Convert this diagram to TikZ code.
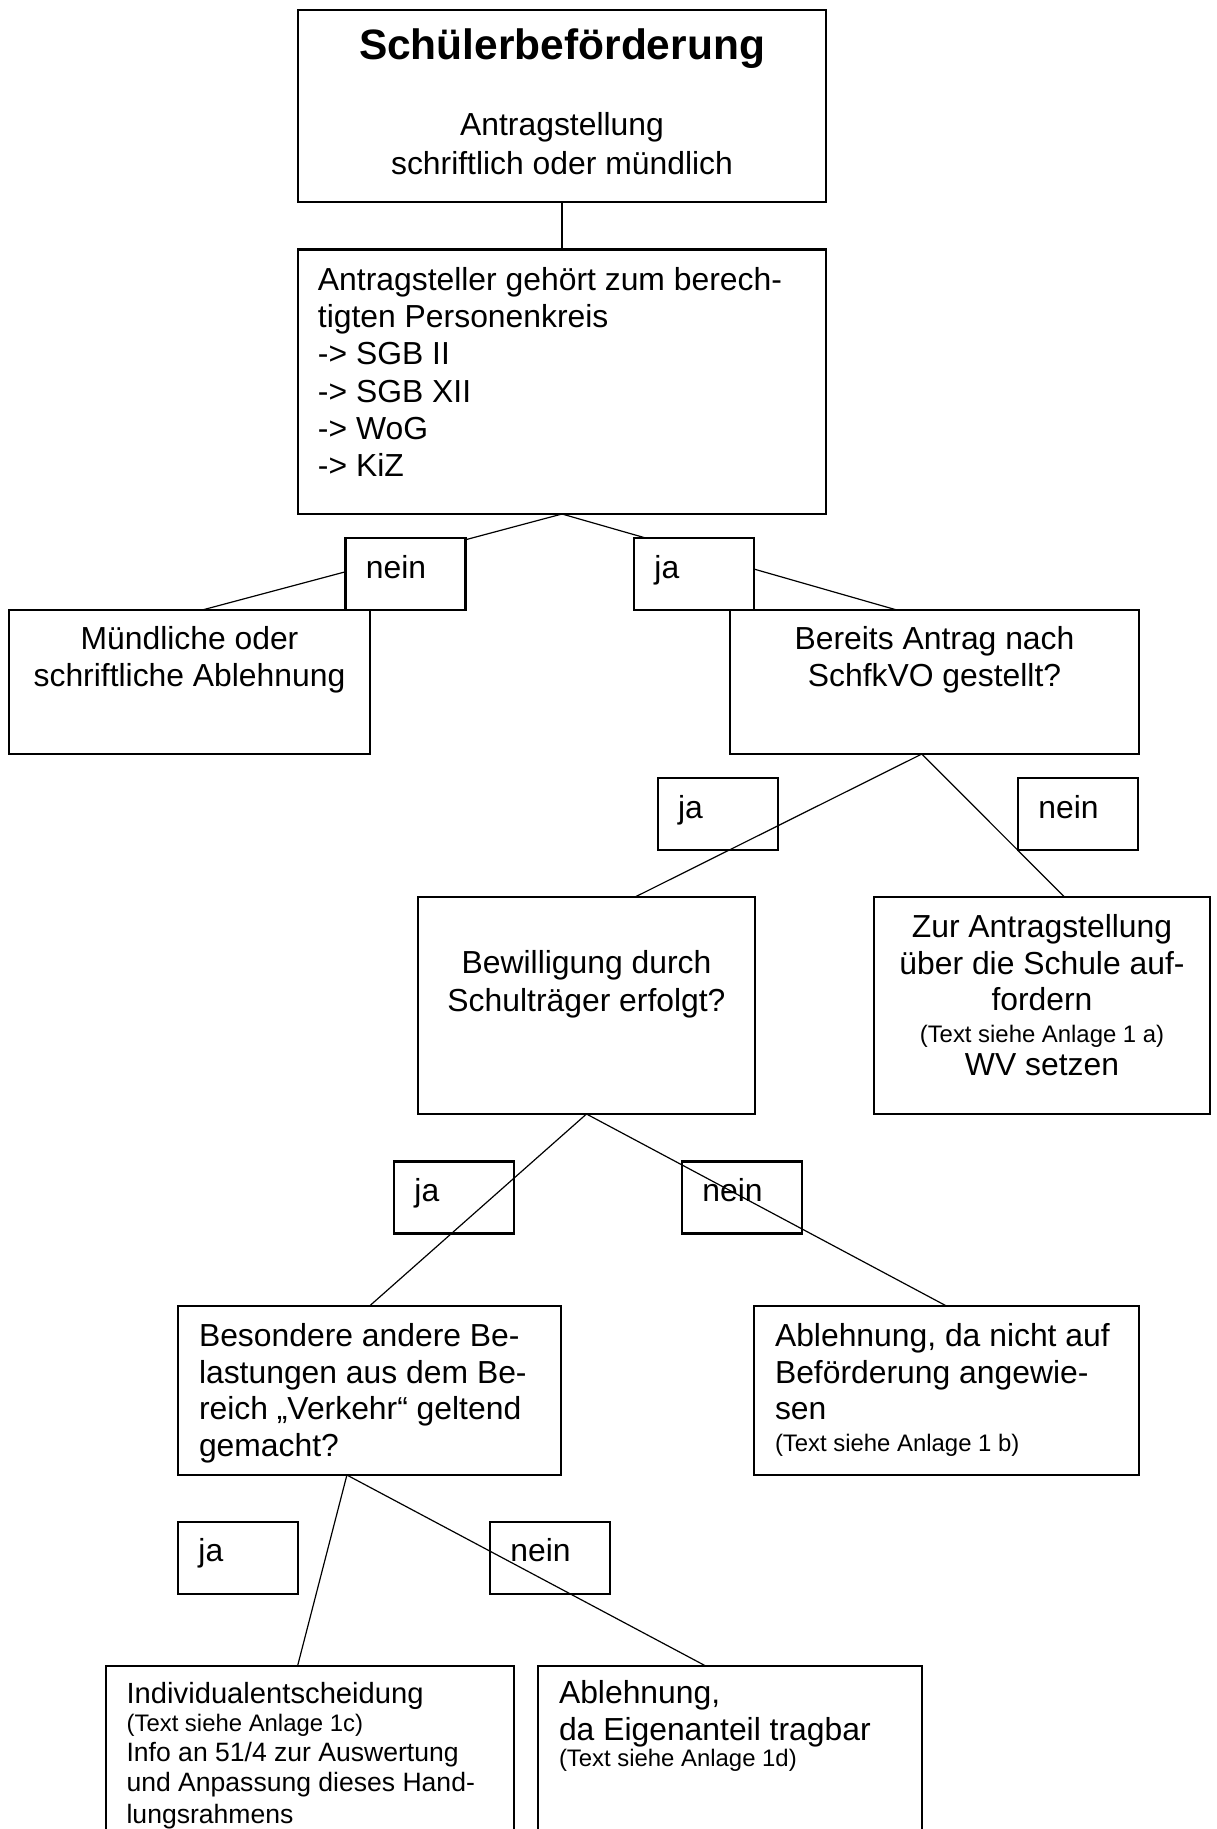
\documentclass[tikz,border=0pt]{standalone}
\usepackage{fontspec}
\setmainfont{Liberation Sans}
\usetikzlibrary{calc}
\tikzset{
  box/.style={draw, line width=0.8pt, inner ysep=0pt, outer sep=0pt, anchor=north west, font={\fontsize{12}{13.8}\selectfont}, execute at begin node={\spaceskip=0pt\xspaceskip=0pt\relax}},
  mid/.style={box, inner xsep=0pt, align=flush center},
  flush/.style={box, inner xsep=7.91pt, align=left},
  answer/.style={box, inner xsep=7.7pt, text width=29.8pt, align=left, text height=15.07pt, text depth=12.05pt},
  link/.style={line width=0.45pt}
}
\begin{document}
\begin{tikzpicture}[x=0.37665pt, y=-0.37665pt]
\useasboundingbox (0,0) rectangle (1217,1829);
\clip (0,0) rectangle (1217,1829);
\node[mid, text width=198.87pt, text height=18.57pt, text depth=53.75pt] (title) at (298,10) {{\bfseries\fontsize{16}{19}\selectfont Schülerbeförderung}\\[14.9pt]Antragstellung\\[0.8pt]schriftlich oder mündlich};
\node[flush, inner xsep=7.53pt, text width=183.81pt, text height=15.48pt, text depth=84.14pt, font={\fontsize{12}{14}\selectfont}] (crit) at (298,249.5) {Antragsteller gehört zum berech-\\tigten Personenkreis\\-> SGB II\\-> SGB XII\\-> WoG\\-> KiZ};
\node[mid, text width=135.97pt, text height=14.84pt, text depth=39.4pt] (oral) at (9,610) {Mündliche oder\\schriftliche Ablehnung};
\node[mid, text width=154.05pt, text height=14.84pt, text depth=39.4pt] (prior) at (730,610) {Bereits Antrag nach\\SchfkVO gestellt?};
\node[mid, text width=126.93pt, text height=28.89pt, text depth=52.84pt] (grant) at (418,897) {Bewilligung durch\\[0.3pt]Schulträger erfolgt?};
\node[mid, text width=126.55pt, text height=15.25pt, text depth=66.48pt] (school) at (874,897) {Zur Antragstellung\\über die Schule auf-\\fordern\\[-1.7pt]{\fontsize{9}{10}\selectfont (Text siehe Anlage 1 a)}\\[-1.6pt]WV setzen};
\node[flush, text width=128.44pt, text height=15.22pt, text depth=48.44pt] (burden) at (178,1306) {Besondere andere Be-\\lastungen aus dem Be-\\reich „Verkehr“ geltend\\gemacht?};
\node[flush, text width=129.19pt, text height=15.22pt, text depth=48.44pt] (refuse1) at (754,1306) {Ablehnung, da nicht auf\\Beförderung angewie-\\sen\\[-1.85pt]{\fontsize{9}{10}\selectfont (Text siehe Anlage 1 b)}};
\node[flush, text width=138pt, text height=14.09pt, text depth=74.05pt, font={\fontsize{10}{11.3}\selectfont}] (single) at (105.6,1666) {{\fontsize{11}{12}\selectfont Individualentscheidung}\\[-0.7pt]{\fontsize{9}{10}\selectfont (Text siehe Anlage 1c)}\\Info an 51/4 zur Auswertung\\und Anpassung dieses Hand-\\[0.8pt]lungsrahmens};
\node[flush, text width=128.81pt, text height=14.09pt, text depth=74.05pt] (refuse2) at (538,1666) {Ablehnung,\\da Eigenanteil tragbar\\[-4pt]{\fontsize{9}{10}\selectfont (Text siehe Anlage 1d)}};
\draw[link] (title.south) -- (crit.north);
\draw[link] (crit.south) -- ($(oral.north west)!0.535!(oral.north east)$);
\draw[link] (crit.south) -- ($(prior.north west)!0.408!(prior.north east)$);
\draw[link] ($(prior.south west)!0.469!(prior.south east)$) coordinate (fork1) -- ($(grant.north west)!0.644!(grant.north east)$);
\draw[link] (fork1) -- ($(school.north west)!0.567!(school.north east)$);
\draw[link] (grant.south) -- (burden.north);
\draw[link] (grant.south) -- (refuse1.north);
\draw[link] ($(burden.south west)!0.441!(burden.south east)$) coordinate (fork2) -- ($(single.north west)!0.47!(single.north east)$);
\draw[link] (fork2) -- ($(refuse2.north west)!0.437!(refuse2.north east)$);
\node[answer, fill=white] (no1) at (345.5,538) {nein};
\node[answer, fill=white] (yes1) at (634,538) {ja};
\node[answer] (yes2) at (657.6,778) {ja};
\node[answer] (no2) at (1018,778) {nein};
\node[answer] (yes3) at (394,1161.5) {ja};
\node[answer] (no3) at (682,1161.5) {nein};
\node[answer] (yes4) at (178,1521.7) {ja};
\node[answer] (no4) at (490,1521.7) {nein};
\end{tikzpicture}
\end{document}
